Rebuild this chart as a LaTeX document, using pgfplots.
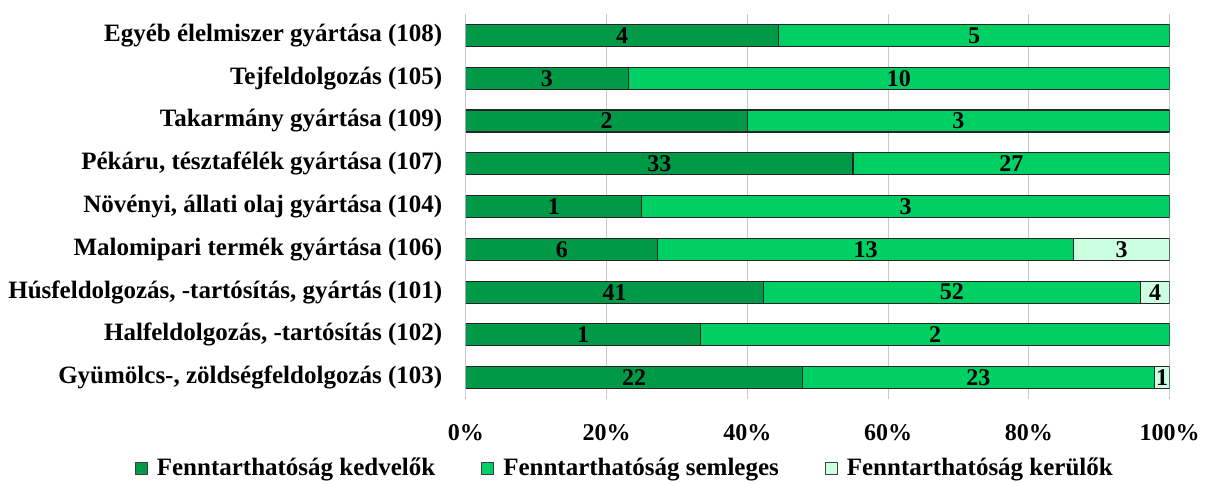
\documentclass[border=0pt]{standalone}
\usepackage{pgfplots}
\pgfplotsset{compat=1.18}
\usepackage{pgfplotstable}
\usepackage{fontspec}
\setmainfont{Liberation Serif}
\definecolor{cA}{RGB}{0,153,71}
\definecolor{cB}{RGB}{0,208,100}
\definecolor{cC}{RGB}{204,255,224}
\definecolor{gridc}{RGB}{200,200,200}
\pgfplotstableread{
y pct cnt
0 47.826 22
1 33.333 1
2 42.268 41
3 27.273 6
4 25.000 1
5 55.000 33
6 40.000 2
7 23.077 3
8 44.444 4
}\tA
\pgfplotstableread{
y pct cnt
0 50.000 23
1 66.667 2
2 53.608 52
3 59.091 13
4 75.000 3
5 45.000 27
6 60.000 3
7 76.923 10
8 55.556 5
}\tB
\pgfplotstableread{
y pct cnt
0 2.174 1
1 0 0
2 4.124 4
3 13.636 3
4 0 0
5 0 0
6 0 0
7 0 0
8 0 0
}\tC
\begin{document}
\fontsize{25}{29}\selectfont\bfseries
\begin{tikzpicture}
\begin{axis}[
  scale only axis,
  width=704pt, height=385pt,
  xbar stacked,
  bar width=22pt,
  xmin=0, xmax=100,
  ymin=-0.5, ymax=8.5,
  axis line style={draw=none},
  xmajorgrids=true,
  major grid style={draw=gridc, line width=1.2pt},
  xtick={0,20,40,60,80,100},
  xticklabel={\pgfmathprintnumber{\tick}\%},
  xticklabel style={font=\fontsize{24}{28}\selectfont\bfseries, yshift=-17pt},
  /pgf/number format/assume math mode=true,
  ytick={0,...,8},
  yticklabels={{Gyümölcs-, zöldségfeldolgozás (103)},{Halfeldolgozás, -tartósítás (102)},{Húsfeldolgozás, -tartósítás, gyártás (101)},{Malomipari termék gyártása (106)},{Növényi, állati olaj gyártása (104)},{Pékáru, tésztafélék gyártása (107)},{Takarmány gyártása (109)},{Tejfeldolgozás (105)},{Egyéb élelmiszer gyártása (108)}},
  yticklabel style={font=\fontsize{25}{29}\selectfont\bfseries, xshift=-15pt},
  major tick length=0pt,
  nodes near coords={\pgfmathparse{\cnt>0}\ifnum\pgfmathresult=1 \pgfmathprintnumber{\cnt}\fi},
  point meta=explicit,
  visualization depends on={\thisrow{cnt} \as \cnt},
  every node near coord/.append style={anchor=center, font=\fontsize{24}{28}\selectfont\bfseries, text=black, /pgf/number format/assume math mode=true},
  legend style={at={(0.226,-0.18)}, anchor=center, draw=none, legend columns=3,
    font=\fontsize{25}{29}\selectfont\bfseries,
    /tikz/every even column/.append style={column sep=44pt}},
  legend image code/.code={\draw[#1, draw=black!75, line width=0.8pt] (0pt,-6pt) rectangle (12pt,6pt); \path (19pt,0pt);},
]
\addplot[fill=cA, draw=black!85, line width=1.2pt] table[x=pct, y=y, meta=cnt] {\tA};
\addplot[fill=cB, draw=black!85, line width=1.2pt] table[x=pct, y=y, meta=cnt] {\tB};
\addplot[fill=cC, draw=black!85, line width=1.2pt] table[x=pct, y=y, meta=cnt] {\tC};
\legend{Fenntarthatóság kedvelők, Fenntarthatóság semleges, Fenntarthatóság kerülők}
\end{axis}
\path ([yshift=14pt]current axis.north) circle (0.1pt);
\end{tikzpicture}
\end{document}
